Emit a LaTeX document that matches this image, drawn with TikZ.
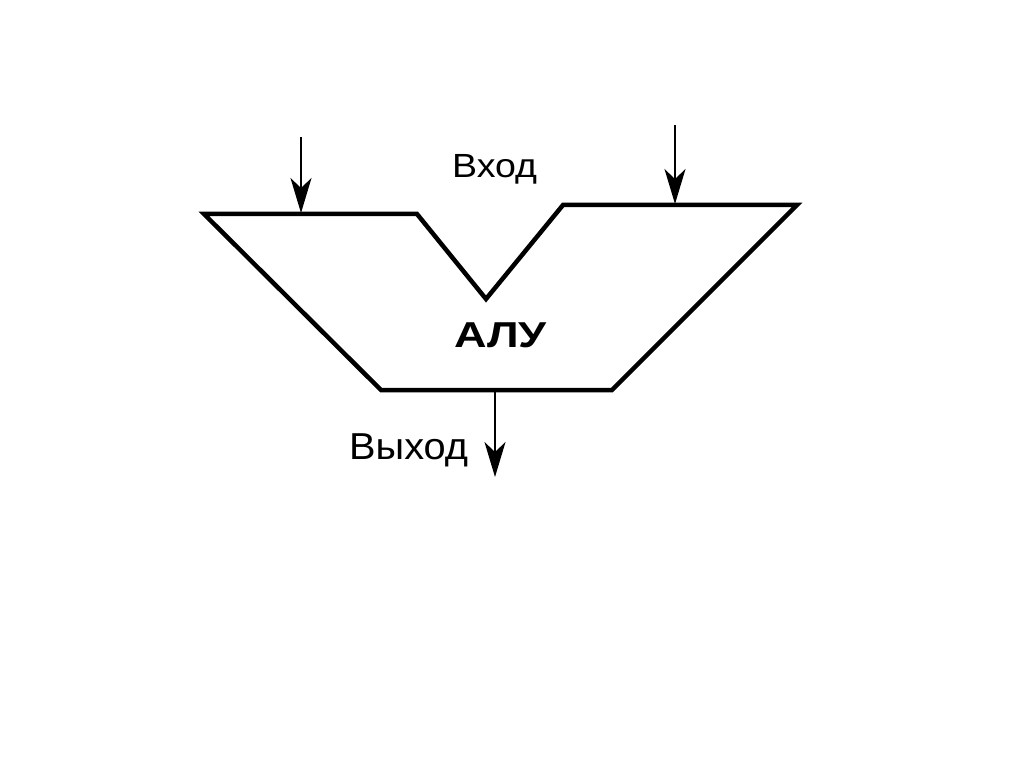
\documentclass[tikz,border=0pt]{standalone}
\usepackage{fontspec}
\setmainfont{Liberation Sans}
\newfontfamily\wideA[FakeStretch=1.12]{Liberation Sans}
\newfontfamily\wideB[FakeStretch=1.25]{Liberation Sans}
\newfontfamily\wideC[FakeStretch=1.06]{Liberation Sans}
\usetikzlibrary{arrows.meta}
\begin{document}
\begin{tikzpicture}[x=1pt,y=-1pt,
  alu/.style={line width=4.5pt,line join=miter},
  sig/.style={line width=1.4pt,-{Stealth[length=35pt,width=21pt,inset=10pt]}},
  lbl/.style={inner sep=0pt,anchor=base west}]
\useasboundingbox (0,0) rectangle (1024,767);
% ALU outline
\coordinate (p1) at (204,214);
\coordinate (p2) at (417,214);
\coordinate (p3) at (486,299);
\coordinate (p4) at (563,205);
\coordinate (p5) at (797,205);
\coordinate (p6) at (612,390);
\coordinate (p7) at (381,390);
\draw[alu] (p1) -- (p2) -- (p3) -- (p4) -- (p5) -- (p6) -- (p7) -- cycle;
% inputs
\coordinate (inA) at (301,137);
\coordinate (inAend) at (301,213);
\coordinate (inB) at (675,125);
\coordinate (inBend) at (675,204);
\draw[sig] (inA) -- (inAend);
\draw[sig] (inB) -- (inBend);
% output
\coordinate (outS) at (495,391);
\coordinate (outE) at (495,477);
\draw[sig] (outS) -- (outE);
% labels
\node[lbl,font=\wideA\fontsize{33.5}{36}\selectfont] (vhod) at (452,178) {Вход};
\node[lbl,font=\wideB\fontsize{36}{40}\selectfont\bfseries] (alutext) at (454,347) {АЛУ};
\node[lbl,font=\wideC\fontsize{37.5}{40}\selectfont] (vyhod) at (349,459) {Выход};
\end{tikzpicture}
\end{document}
